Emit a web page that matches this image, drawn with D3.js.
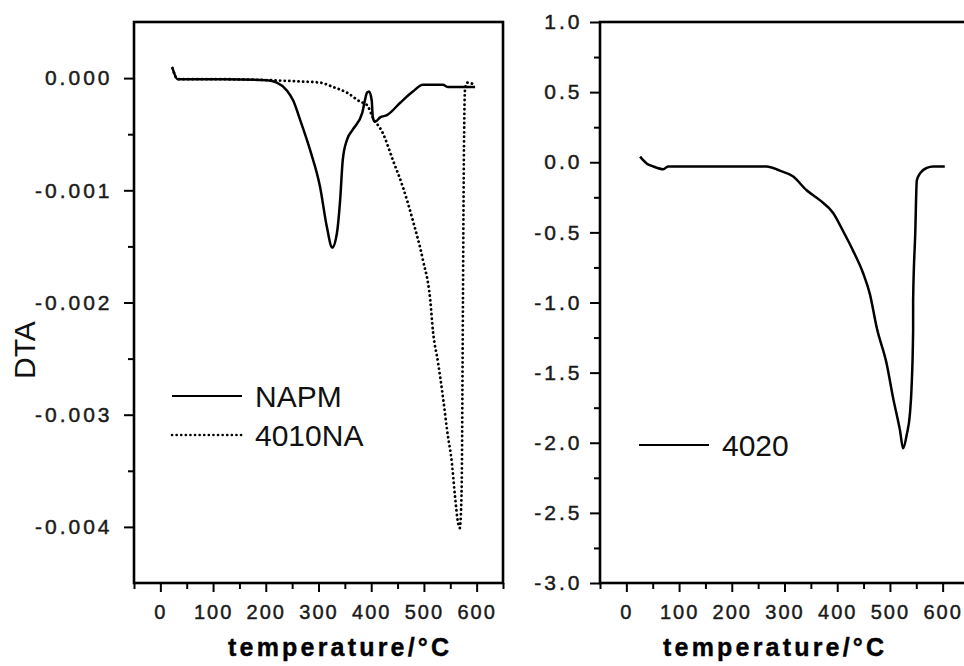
<!DOCTYPE html>
<html><head><meta charset="utf-8">
<script src="https://cdn.jsdelivr.net/npm/d3@7"></script>
<style>body{margin:0;background:#fff}svg{display:block}</style>
</head><body><svg id="c" width="964" height="666"></svg>
<script>
// ---------- data ----------
const napmT = [23,33,120,202,221,240,252,265,284,303,316,326,335,341,346,354,365,383,388,392,396,401,403,407,417,430,455,479,498,536,546,597];
const napmV = [0.00009,-0.00001,-0.00001,-0.00002,-0.00004,-0.00011,-0.0002,-0.00037,-0.00064,-0.00097,-0.00133,-0.00151,-0.00138,-0.00109,-0.00073,-0.00055,-0.00046,-0.00031,-0.0002,-0.00013,-0.00012,-0.0002,-0.00035,-0.00039,-0.00035,-0.00033,-0.00022,-0.00012,-0.00006,-0.00006,-0.00008,-0.00008];
const na4010T = [23,33,120,214,265,303,328,354,379,392,403,422,441,460,479,498,512,517,527,536,544,553,559,565,568,570,572,573,574,575,576,578,582,597];
const na4010V = [0.00009,-0.00001,-0.00001,-0.00002,-0.00003,-0.00004,-0.00008,-0.00013,-0.00021,-0.00024,-0.00035,-0.00049,-0.00073,-0.00097,-0.00127,-0.00162,-0.00198,-0.00225,-0.00254,-0.00284,-0.00314,-0.00343,-0.00373,-0.00397,-0.00401,-0.0039,-0.0035,-0.0028,-0.002,-0.0012,-0.0006,-0.0001,-0.00004,-0.00006];
const s4020T = [26,39,51,70,79,266,291,316,342,367,392,411,430,449,462,475,494,506,519,525,532,538,541,544,544,548,551,557,570,582,604];
const s4020V = [0.04,-0.01,-0.03,-0.05,-0.03,-0.03,-0.06,-0.1,-0.2,-0.27,-0.36,-0.49,-0.63,-0.79,-0.94,-1.18,-1.44,-1.68,-1.91,-2.04,-1.94,-1.79,-1.61,-1.2,-0.99,-0.51,-0.13,-0.08,-0.04,-0.03,-0.03];

const xMajor = [0,100,200,300,400,500,600];
const xMinor = [-50,50,150,250,350,450,550,650];
const leftYMajor = [0,-0.001,-0.002,-0.003,-0.004];
const leftYMinor = [-0.0005,-0.0015,-0.0025,-0.0035];
const rightYMajor = [1,0.5,0,-0.5,-1,-1.5,-2,-2.5,-3];
const rightYMinor = [0.75,0.25,-0.25,-0.75,-1.25,-1.75,-2.25,-2.75];
const leftLegend = ["NAPM","4010NA"];
const rightLegend = ["4020"];
const xTitle = "temperature/°C";
const yTitle = "DTA";

// ---------- drawing ----------
const svg = d3.select("#c");
const tickFont = "Liberation Sans, Arial, sans-serif";

function panel(x0, x1, y0, y1, yDomain, yMajor, yMinor, fmt, labPad, titleX) {
  const g = svg.append("g");
  const x = d3.scaleLinear().domain([-50,650]).range([x0,x1]);
  const y = d3.scaleLinear().domain(yDomain).range([y1,y0]);
  g.append("rect").attr("x",x0).attr("y",y0).attr("width",x1-x0).attr("height",y1-y0)
    .attr("fill","none").attr("stroke","#000").attr("stroke-width",2.6);
  const style = (sel, size, ls) => {
    sel.select(".domain").remove();
    sel.selectAll("line").attr("stroke","#000").attr("stroke-width",2);
    sel.selectAll("text").attr("font-family",tickFont).attr("font-size",size)
      .attr("letter-spacing",ls).attr("fill","#1a1a1a").attr("stroke","#1a1a1a").attr("stroke-width",0.45);
  };
  g.append("g").attr("transform",`translate(${x0},0)`)
    .call(d3.axisLeft(y).tickValues(yMajor).tickSize(10).tickPadding(labPad).tickFormat(fmt)).call(style,21,"3px");
  g.append("g").attr("transform",`translate(${x0},0)`)
    .call(d3.axisLeft(y).tickValues(yMinor).tickSize(6).tickFormat("")).call(style,21,"3px");
  g.append("g").attr("transform",`translate(0,${y1})`)
    .call(d3.axisBottom(x).tickValues(xMajor).tickSize(9).tickPadding(13).tickFormat(d3.format("d"))).call(style,20,"2px");
  g.append("g").attr("transform",`translate(0,${y1})`)
    .call(d3.axisBottom(x).tickValues(xMinor).tickSize(6).tickFormat("")).call(style,20,"2px");
  g.append("text").attr("x",titleX).attr("y",656).text(xTitle)
    .attr("font-family",tickFont).attr("font-weight","bold").attr("font-size",25)
    .attr("letter-spacing","3.2px").attr("fill","#000").attr("stroke","#000").attr("stroke-width",0.4);
  return {g,x,y};
}

const L = panel(134, 503, 22, 583, [-0.0045,0.0005], leftYMajor, leftYMinor, d => d.toFixed(3), 11.5, 228);
const R = panel(600, 969, 22, 583, [-3,1], rightYMajor, rightYMinor, d => d.toFixed(1), 7.5, 663);

function drawLine(P, T, V, dash) {
  const data = T.map((t,i)=>[t,V[i]]);
  const p = P.g.append("path").datum(data)
    .attr("d", d3.line().curve(d3.curveMonotoneX).x(d=>P.x(d[0])).y(d=>P.y(d[1])))
    .attr("fill","none").attr("stroke","#000");
  if (dash) p.attr("stroke-width",2.8).attr("stroke-dasharray","0.1,4.5").attr("stroke-linecap","round");
  else p.attr("stroke-width",2.5).attr("stroke-linejoin","round");
}
drawLine(L, na4010T, na4010V, true);
drawLine(L, napmT, napmV, false);
drawLine(R, s4020T, s4020V, false);

svg.append("text").attr("transform","translate(35,350) rotate(-90)").attr("text-anchor","middle")
  .attr("font-family",tickFont).attr("font-size",30).attr("fill","#111").text(yTitle);

function legend(x, y, label, dash) {
  const l = svg.append("line").attr("x1",x).attr("x2",x+70).attr("y1",y).attr("y2",y).attr("stroke","#000");
  if (dash) l.attr("stroke-width",2.6).attr("stroke-dasharray","0.1,4.5").attr("stroke-linecap","round");
  else l.attr("stroke-width",2.2);
  svg.append("text").attr("x",x+83).attr("y",y+11).text(label)
    .attr("font-family",tickFont).attr("font-size",30).attr("fill","#111");
}
legend(172, 396, leftLegend[0], false);
legend(172, 435, leftLegend[1], true);
legend(639, 445, rightLegend[0], false);
</script></body></html>
